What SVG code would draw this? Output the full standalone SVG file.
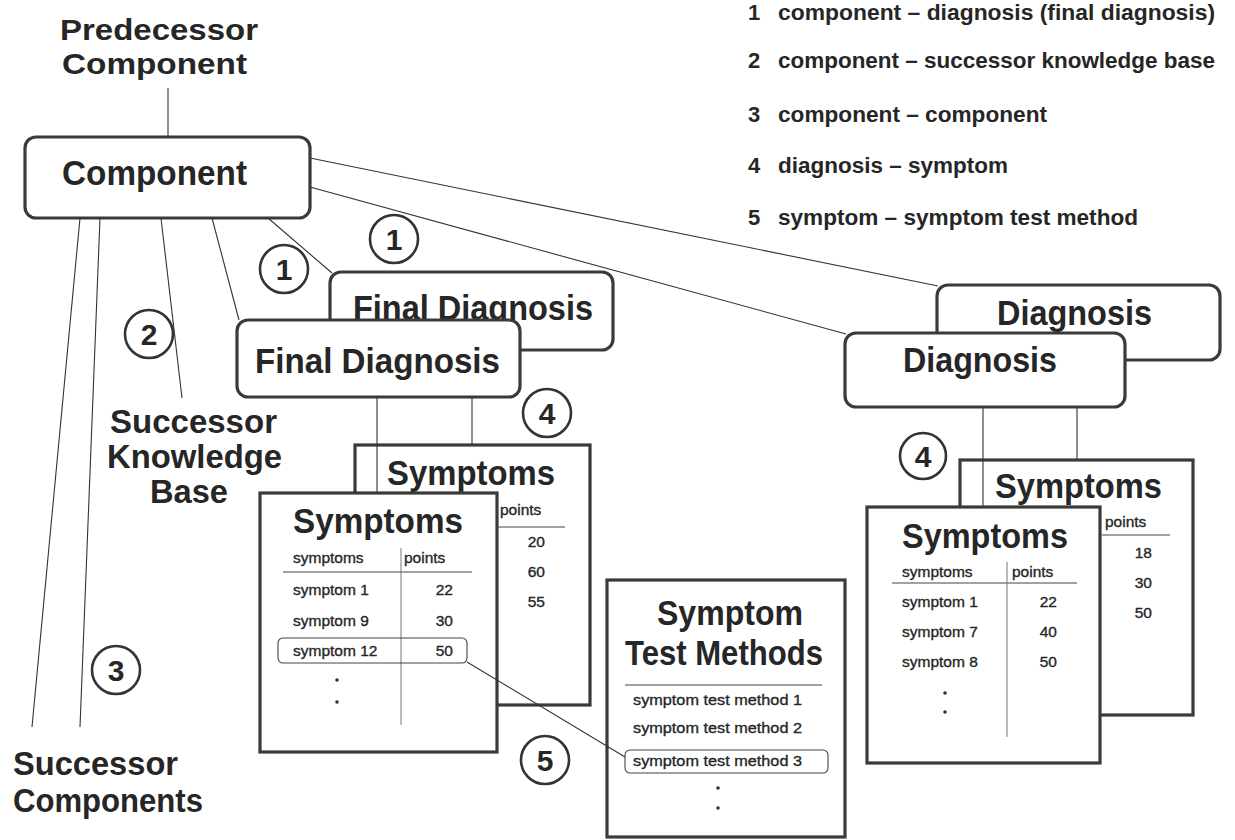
<svg xmlns="http://www.w3.org/2000/svg" width="1235" height="840" viewBox="0 0 1235 840">
  <style>
    text { font-family: "Liberation Sans", Arial, Helvetica, sans-serif; fill: #262626; }
    .big { font-size: 35px; font-weight: bold; }
    .label { font-size: 34px; font-weight: bold; }
    .head { font-size: 30px; font-weight: bold; }
    .leg { font-size: 22px; font-weight: bold; }
    .small { font-size: 15.5px; stroke: #262626; stroke-width: 0.35; }
    .num { font-size: 30px; font-weight: bold; text-anchor: middle; }
    .rbox { fill: #fff; stroke: #3a3a3a; stroke-width: 3.2; }
    .sbox { fill: #fff; stroke: #3a3a3a; stroke-width: 3.2; }
    .hl { fill: none; stroke: #444; stroke-width: 1.1; }
    .rule { stroke: #444; stroke-width: 1; }
    .col { stroke: #666; stroke-width: 0.9; }
    .conn { stroke: #333; stroke-width: 1.1; fill: none; }
    .ring { fill: #fff; stroke: #333; stroke-width: 2.6; }
    .dot { fill: #333; }
  </style>

  <!-- free labels -->
  <g id="predecessor">
    <text class="head" x="60" y="40" textLength="198" lengthAdjust="spacingAndGlyphs">Predecessor</text>
    <text class="head" x="62" y="74" textLength="185" lengthAdjust="spacingAndGlyphs">Component</text>
  </g>
  <g id="successor-kb">
    <text class="label" x="110" y="433" textLength="167" lengthAdjust="spacingAndGlyphs">Successor</text>
    <text class="label" x="107" y="468" textLength="175" lengthAdjust="spacingAndGlyphs">Knowledge</text>
    <text class="label" x="150" y="503" textLength="78" lengthAdjust="spacingAndGlyphs">Base</text>
  </g>
  <g id="successor-components">
    <text class="label" x="13" y="775" textLength="165" lengthAdjust="spacingAndGlyphs">Successor</text>
    <text class="label" x="13" y="812" textLength="190" lengthAdjust="spacingAndGlyphs">Components</text>
  </g>

  <!-- legend -->
  <g id="legend">
    <text class="leg" x="748" y="20">1</text>
    <text class="leg" x="778" y="20" textLength="437" lengthAdjust="spacingAndGlyphs">component – diagnosis (final diagnosis)</text>
    <text class="leg" x="748" y="68">2</text>
    <text class="leg" x="778" y="68" textLength="437" lengthAdjust="spacingAndGlyphs">component – successor knowledge base</text>
    <text class="leg" x="748" y="122">3</text>
    <text class="leg" x="778" y="122" textLength="269" lengthAdjust="spacingAndGlyphs">component – component</text>
    <text class="leg" x="748" y="173">4</text>
    <text class="leg" x="778" y="173" textLength="230" lengthAdjust="spacingAndGlyphs">diagnosis – symptom</text>
    <text class="leg" x="748" y="225">5</text>
    <text class="leg" x="778" y="225" textLength="360" lengthAdjust="spacingAndGlyphs">symptom – symptom test method</text>
  </g>

  <!-- main component -->
  <g id="component">
    <rect class="rbox" x="25" y="137" width="285" height="81" rx="11"/>
    <text class="big" x="62" y="185" textLength="185" lengthAdjust="spacingAndGlyphs">Component</text>
  </g>

  <!-- final diagnoses -->
  <g id="final-diagnosis-back">
    <rect class="rbox" x="330" y="272" width="283" height="78" rx="11"/>
    <text class="big" x="353" y="320" textLength="240" lengthAdjust="spacingAndGlyphs">Final Diagnosis</text>
  </g>
  <g id="final-diagnosis-front">
    <rect class="rbox" x="237" y="320" width="283" height="77" rx="11"/>
    <text class="big" x="255" y="373" textLength="245" lengthAdjust="spacingAndGlyphs">Final Diagnosis</text>
  </g>

  <!-- diagnoses -->
  <g id="diagnosis-back">
    <rect class="rbox" x="937" y="285" width="283" height="75" rx="11"/>
    <text class="big" x="997" y="325" textLength="155" lengthAdjust="spacingAndGlyphs">Diagnosis</text>
  </g>
  <g id="diagnosis-front">
    <rect class="rbox" x="845" y="333" width="280" height="74" rx="11"/>
    <text class="big" x="903" y="372" textLength="154" lengthAdjust="spacingAndGlyphs">Diagnosis</text>
  </g>

  <!-- symptom tables under the final diagnoses -->
  <g id="symptoms-left-back">
    <rect class="sbox" x="355" y="445" width="235" height="260"/>
    <text class="big" x="387" y="485" textLength="168" lengthAdjust="spacingAndGlyphs">Symptoms</text>
    <text class="small" x="500" y="515">points</text>
    <line class="rule" x1="498" y1="527" x2="565" y2="527"/>
    <text class="small" x="545" y="547" text-anchor="end">20</text>
    <text class="small" x="545" y="577" text-anchor="end">60</text>
    <text class="small" x="545" y="607" text-anchor="end">55</text>
  </g>
  <g id="symptoms-left-front">
    <rect class="sbox" x="260" y="493" width="237" height="259"/>
    <text class="big" x="293" y="533" textLength="170" lengthAdjust="spacingAndGlyphs">Symptoms</text>
    <text class="small" x="293" y="563">symptoms</text>
    <text class="small" x="404" y="563">points</text>
    <line class="rule" x1="283" y1="572" x2="472" y2="572"/>
    <line class="col" x1="401" y1="548" x2="401" y2="725"/>
    <text class="small" x="293" y="595">symptom 1</text>
    <text class="small" x="453" y="595" text-anchor="end">22</text>
    <text class="small" x="293" y="626">symptom 9</text>
    <text class="small" x="453" y="626" text-anchor="end">30</text>
    <rect class="hl" x="278" y="638" width="189" height="25" rx="5"/>
    <text class="small" x="293" y="656">symptom 12</text>
    <text class="small" x="453" y="656" text-anchor="end">50</text>
    <circle class="dot" cx="337" cy="680" r="1.8"/>
    <circle class="dot" cx="337" cy="702" r="1.8"/>
  </g>

  <!-- symptom tables under the diagnoses -->
  <g id="symptoms-right-back">
    <rect class="sbox" x="960" y="460" width="233" height="255"/>
    <text class="big" x="995" y="498" textLength="167" lengthAdjust="spacingAndGlyphs">Symptoms</text>
    <text class="small" x="1105" y="527">points</text>
    <line class="rule" x1="1102" y1="535" x2="1170" y2="535"/>
    <text class="small" x="1152" y="558" text-anchor="end">18</text>
    <text class="small" x="1152" y="588" text-anchor="end">30</text>
    <text class="small" x="1152" y="618" text-anchor="end">50</text>
  </g>
  <g id="symptoms-right-front">
    <rect class="sbox" x="867" y="507" width="233" height="256"/>
    <text class="big" x="902" y="548" textLength="166" lengthAdjust="spacingAndGlyphs">Symptoms</text>
    <text class="small" x="902" y="577">symptoms</text>
    <text class="small" x="1012" y="577">points</text>
    <line class="rule" x1="892" y1="583" x2="1077" y2="583"/>
    <line class="col" x1="1007" y1="562" x2="1007" y2="737"/>
    <text class="small" x="902" y="607">symptom 1</text>
    <text class="small" x="1057" y="607" text-anchor="end">22</text>
    <text class="small" x="902" y="637">symptom 7</text>
    <text class="small" x="1057" y="637" text-anchor="end">40</text>
    <text class="small" x="902" y="667">symptom 8</text>
    <text class="small" x="1057" y="667" text-anchor="end">50</text>
    <circle class="dot" cx="945" cy="693" r="1.8"/>
    <circle class="dot" cx="945" cy="712" r="1.8"/>
  </g>

  <!-- test methods table -->
  <g id="symptom-test-methods">
    <rect class="sbox" x="607" y="580" width="238" height="257"/>
    <text class="big" x="657" y="625" textLength="146" lengthAdjust="spacingAndGlyphs">Symptom</text>
    <text class="big" x="625" y="665" textLength="198" lengthAdjust="spacingAndGlyphs">Test Methods</text>
    <line class="rule" x1="625" y1="685" x2="822" y2="685"/>
    <text class="small" x="633" y="705" textLength="169" lengthAdjust="spacingAndGlyphs">symptom test method 1</text>
    <text class="small" x="633" y="733" textLength="169" lengthAdjust="spacingAndGlyphs">symptom test method 2</text>
    <rect class="hl" x="625" y="750" width="203" height="23" rx="5"/>
    <text class="small" x="633" y="766" textLength="169" lengthAdjust="spacingAndGlyphs">symptom test method 3</text>
    <circle class="dot" cx="718" cy="788" r="1.8"/>
    <circle class="dot" cx="718" cy="808" r="1.8"/>
  </g>

  <!-- relations -->
  <g id="connectors">
    <line class="conn" x1="168" y1="88" x2="168" y2="137"/>
    <line class="conn" x1="80" y1="218" x2="32" y2="727"/>
    <line class="conn" x1="100" y1="218" x2="80" y2="727"/>
    <line class="conn" x1="161" y1="218" x2="182" y2="398"/>
    <line class="conn" x1="212" y1="218" x2="239" y2="320"/>
    <line class="conn" x1="268" y1="218" x2="332" y2="273"/>
    <line class="conn" x1="310" y1="158" x2="938" y2="286"/>
    <line class="conn" x1="310" y1="187" x2="846" y2="334"/>
    <line class="conn" x1="377" y1="397" x2="377" y2="493"/>
    <line class="conn" x1="472" y1="397" x2="472" y2="445"/>
    <line class="conn" x1="983" y1="407" x2="983" y2="507"/>
    <line class="conn" x1="1077" y1="407" x2="1077" y2="460"/>
    <line class="conn" x1="467" y1="662" x2="625" y2="757"/>
  </g>

  <!-- relation numbers -->
  <g id="markers">
    <circle class="ring" cx="394" cy="239" r="24"/><text class="num" x="394" y="250">1</text>
    <circle class="ring" cx="284" cy="269" r="24"/><text class="num" x="284" y="280">1</text>
    <circle class="ring" cx="149" cy="334" r="24"/><text class="num" x="149" y="345">2</text>
    <circle class="ring" cx="116" cy="670" r="24"/><text class="num" x="116" y="681">3</text>
    <circle class="ring" cx="547" cy="413" r="24"/><text class="num" x="547" y="424">4</text>
    <circle class="ring" cx="923" cy="456" r="23"/><text class="num" x="923" y="467">4</text>
    <circle class="ring" cx="545" cy="760" r="24"/><text class="num" x="545" y="771">5</text>
  </g>
</svg>
